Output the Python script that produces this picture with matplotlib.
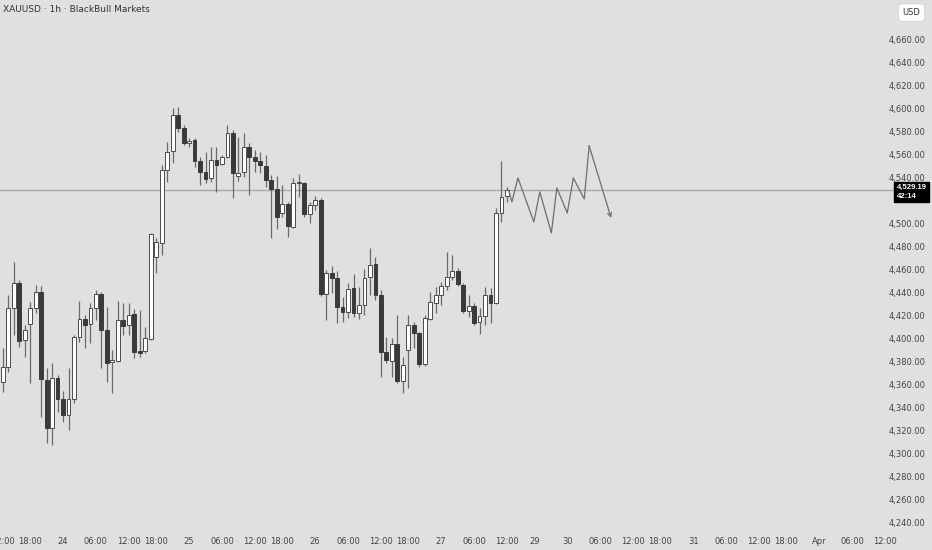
import matplotlib.pyplot as plt
import matplotlib.transforms as mtransforms
import numpy as np

# hourly bars, index 0 = 24 Mar 00:00 (23 bars per trading day)
bars = np.arange(-11, 82)
opens = [4362.1, 4375.1, 4426.5, 4448.3, 4398.7, 4412.6, 4426.5, 4440.5, 4363.8, 4322.0, 4365.6,
         4347.3, 4333.3, 4347.3, 4401.3, 4417.0, 4412.6, 4426.5, 4438.7, 4407.4, 4379.5, 4380.4,
         4416.1, 4411.7, 4421.3, 4389.1, 4389.1, 4399.5, 4471.0, 4483.2, 4546.7, 4563.3, 4594.7,
         4583.3, 4570.3, 4572.9, 4554.6, 4545.0, 4539.8, 4555.5, 4552.0, 4558.1, 4579.0, 4541.5,
         4545.0, 4566.8, 4558.1, 4554.6, 4550.2, 4538.0, 4530.2, 4509.3, 4517.1, 4497.1, 4535.4,
         4535.4, 4508.4, 4516.3, 4520.6, 4438.7, 4457.0, 4452.7, 4427.4, 4423.1, 4443.9, 4422.2,
         4429.2, 4453.5, 4464.9, 4437.9, 4388.2, 4380.4, 4395.2, 4363.0, 4389.9, 4411.7, 4404.7,
         4377.8, 4417.0, 4430.9, 4437.9, 4445.7, 4453.5, 4458.8, 4446.6, 4423.9, 4428.3, 4414.3,
         4419.6, 4437.9, 4430.9, 4509.3, 4524.1]
highs = [4391.7, 4437.9, 4466.6, 4451.0, 4411.7, 4431.8, 4446.6, 4445.7, 4374.3, 4378.6, 4368.2,
         4354.2, 4374.3, 4403.0, 4432.6, 4420.4, 4430.9, 4442.2, 4440.5, 4427.4, 4389.9, 4432.6,
         4430.9, 4430.9, 4425.7, 4424.8, 4410.0, 4491.9, 4487.5, 4551.1, 4571.1, 4600.8, 4601.6,
         4586.0, 4574.6, 4574.6, 4558.1, 4562.4, 4566.8, 4566.8, 4559.8, 4586.0, 4581.6, 4575.5,
         4579.0, 4570.3, 4564.2, 4562.4, 4559.8, 4542.4, 4541.5, 4533.7, 4518.9, 4539.8, 4543.3,
         4536.3, 4518.9, 4524.1, 4522.4, 4459.6, 4463.1, 4458.8, 4436.1, 4448.3, 4456.1, 4444.8,
         4460.5, 4478.8, 4471.0, 4442.2, 4401.3, 4400.4, 4420.4, 4383.8, 4420.4, 4414.3, 4405.6,
         4420.4, 4440.5, 4444.8, 4449.2, 4475.3, 4472.7, 4461.4, 4448.3, 4437.9, 4430.9, 4426.5,
         4444.8, 4443.9, 4513.6, 4554.6, 4531.9]
lows = [4353.4, 4370.8, 4403.0, 4392.5, 4383.8, 4361.2, 4422.2, 4331.6, 4309.0, 4307.2, 4336.0,
        4327.2, 4320.3, 4343.8, 4396.9, 4391.7, 4396.0, 4416.1, 4374.3, 4362.1, 4352.5, 4379.5,
        4403.0, 4403.0, 4383.0, 4383.8, 4387.3, 4398.7, 4457.0, 4472.7, 4536.3, 4552.8, 4579.9,
        4568.5, 4566.8, 4549.4, 4533.7, 4535.4, 4536.3, 4527.6, 4551.1, 4557.2, 4522.4, 4537.0,
        4540.7, 4525.0, 4545.0, 4544.1, 4531.9, 4487.5, 4495.4, 4505.8, 4488.4, 4496.0, 4523.2,
        4505.8, 4500.6, 4511.9, 4437.0, 4416.1, 4439.6, 4413.5, 4414.3, 4417.8, 4418.7, 4417.0,
        4420.4, 4437.9, 4433.5, 4366.4, 4378.6, 4366.4, 4361.2, 4352.5, 4356.8, 4391.7, 4375.1,
        4376.0, 4416.1, 4422.2, 4429.2, 4442.2, 4450.9, 4445.7, 4422.5, 4418.7, 4411.7, 4403.9,
        4411.7, 4413.5, 4430.0, 4501.4, 4518.9]
closes = [4375.1, 4426.5, 4448.3, 4397.8, 4407.4, 4426.5, 4440.5, 4364.7, 4322.0, 4365.6, 4347.3,
          4333.3, 4347.3, 4401.3, 4417.0, 4411.7, 4426.5, 4438.7, 4407.4, 4378.6, 4381.2, 4416.1,
          4410.9, 4420.4, 4388.2, 4387.3, 4400.4, 4491.0, 4484.0, 4546.7, 4562.4, 4594.7, 4583.3,
          4570.3, 4572.0, 4554.6, 4545.0, 4538.9, 4555.5, 4551.1, 4558.1, 4579.0, 4544.1, 4544.1,
          4566.8, 4558.1, 4554.6, 4551.1, 4538.0, 4530.2, 4505.8, 4517.1, 4498.0, 4535.4, 4536.3,
          4508.4, 4516.3, 4520.6, 4438.7, 4457.0, 4452.7, 4427.4, 4423.1, 4443.1, 4422.2, 4429.2,
          4452.7, 4464.0, 4437.9, 4388.2, 4381.2, 4395.2, 4363.0, 4376.9, 4411.7, 4404.7, 4377.8,
          4417.8, 4431.8, 4437.9, 4445.7, 4453.5, 4458.8, 4447.4, 4423.9, 4428.3, 4413.5, 4419.6,
          4437.9, 4430.9, 4509.3, 4523.2, 4529.19]

# projected path drawn on the chart
path_x = [81.3, 81.9, 83.0, 85.9, 87.0, 89.1, 90.1, 92.0, 93.1, 95.1, 96.0, 100.0]
path_y = [4529.0, 4518.9, 4539.8, 4501.4, 4527.6, 4491.9, 4531.1, 4509.3, 4539.8, 4521.5, 4567.7, 4504.9]

tick_pos = [-11, -6, 0, 6, 12, 17, 23, 29, 35, 40, 46, 52, 58, 63, 69, 75, 81,
            86, 92, 98, 104, 109, 115, 121, 127, 132, 138, 144, 150]
tick_lab = ['12:00', '18:00', '24', '06:00', '12:00', '18:00', '25', '06:00', '12:00', '18:00',
            '26', '06:00', '12:00', '18:00', '27', '06:00', '12:00',
            '29', '30', '06:00', '12:00', '18:00', '31', '06:00', '12:00', '18:00', 'Apr', '06:00', '12:00']
price_ticks = [p for p in range(4240, 4661, 20) if p != 4520]
last_price = 4529.19
countdown = '42:14'

bg = '#e0e0e0'
fig = plt.figure(figsize=(9.32, 5.5), dpi=100, facecolor=bg)
ax = fig.add_axes([0, 20 / 550, 895 / 932, 530 / 550])
ax.set_facecolor(bg)

o = np.array(opens); c = np.array(closes)
up = c >= o
ax.vlines(bars, lows, highs, color='#6a6a6a', lw=0.9, zorder=2)
ax.bar(bars[up], (c - o)[up], bottom=o[up], width=0.7, color='white',
       edgecolor='#4a4a4a', linewidth=0.7, zorder=3)
ax.bar(bars[~up], (o - c)[~up], bottom=c[~up], width=0.7, color='#3a3a3a',
       edgecolor='#3a3a3a', linewidth=0.7, zorder=3)

ax.axhline(last_price, color='#a8a8a8', lw=1.0, zorder=1)

ax.plot(path_x[:-1], path_y[:-1], color='#6e6e6e', lw=0.9, zorder=4)
ax.annotate('', xy=(path_x[-1], path_y[-1]), xytext=(path_x[-2], path_y[-2]),
            arrowprops=dict(arrowstyle='->', color='#6e6e6e', lw=0.9,
                            shrinkA=0, shrinkB=0, mutation_scale=7), zorder=4)

ax.set_xlim(-11.5, 151.8)
ax.set_ylim(4233.1, 4694.8)
for s in ax.spines.values():
    s.set_visible(False)

ax.set_xticks(tick_pos)
ax.set_xticklabels(tick_lab)
ax.tick_params(axis='x', length=0, pad=5, labelsize=6, labelcolor='#444444')

ax.yaxis.tick_right()
ax.set_yticks(price_ticks)
ax.set_yticklabels([f'{p:,.2f}' for p in price_ticks])
ax.tick_params(axis='y', length=0, pad=22, labelsize=6, labelcolor='#444444')
for lab in ax.get_yticklabels():
    lab.set_ha('right')

# last price tag on the price scale
tr = mtransforms.blended_transform_factory(fig.transFigure, ax.transData)
ax.annotate(f'{last_price:,.2f}\n{countdown}', xy=(0.962, last_price), xycoords=tr,
            xytext=(0, 4.2), textcoords='offset points', family='Liberation Sans',
            ha='left', va='top', fontsize=5.6, color='white', fontweight='bold', linespacing=1.3,
            bbox=dict(boxstyle='square,pad=0.3', fc='black', ec='black'), annotation_clip=False)

fig.text(0.0035, 0.982, 'XAUUSD · 1h · BlackBull Markets', ha='left', va='center',
         fontsize=6.5, color='#333333')
fig.text(0.978, 0.977, 'USD', ha='center', va='center', fontsize=6, color='#333333',
         bbox=dict(boxstyle='round,pad=0.5', fc='white', ec='#d0d0d0', lw=0.5))

fig.savefig('out.png', dpi=100, facecolor=bg)
